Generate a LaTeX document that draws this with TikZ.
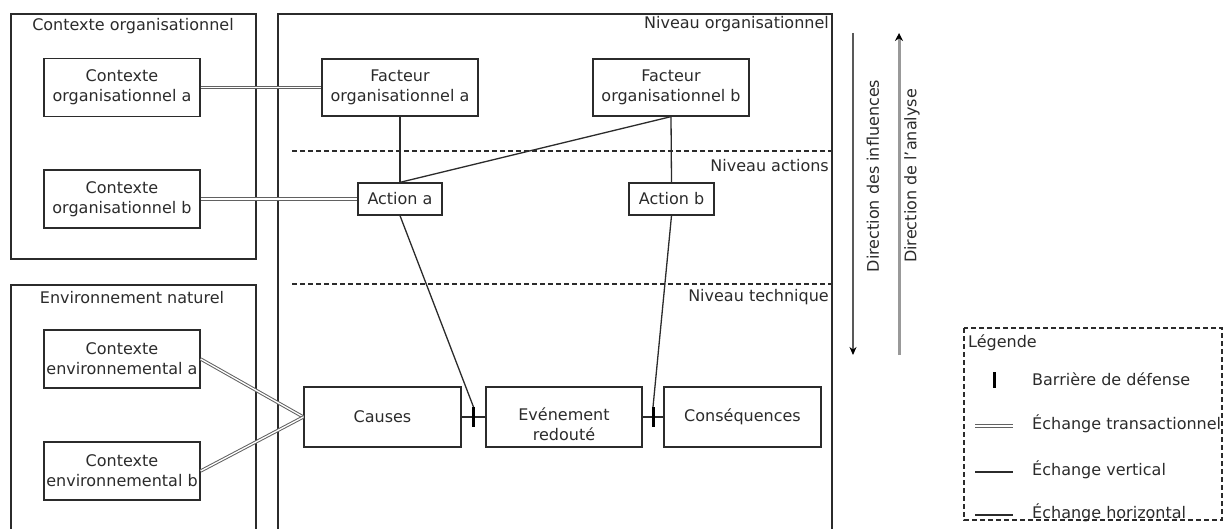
\documentclass[tikz,border=0pt]{standalone}
\usepackage{fontspec}
\setmainfont{DejaVu Sans}
\usetikzlibrary{calc,arrows.meta}
\definecolor{ink}{HTML}{2B2B2B}

\begin{document}
\begin{tikzpicture}[x=1pt,y=-1pt,font=\fontsize{16}{20}\selectfont,
  box/.style={draw=ink,line width=1.3pt,minimum width=156pt,minimum height=58pt,align=center,inner sep=0pt,text=ink},
  frame/.style={draw=ink,line width=1.3pt},
  lvl/.style={draw=ink,line width=1.2pt,dash pattern=on 5pt off 3pt},
  lbl/.style={inner sep=0pt,text=ink},
  dbl/.style={draw=black!62,double=white,double distance=1.3pt,line width=1pt},
  lnk/.style={draw=ink,line width=1.3pt},
  bar/.style={draw=black,line width=3pt}]
\useasboundingbox (0,0) rectangle (1223,529);
\clip (0,0) rectangle (1223,529);

\draw [frame] (11,14) rectangle (256,259);
\draw [frame] (11,285) rectangle (256,560);
\draw [frame] (278,14) rectangle (832,560);
\node [lbl] (torg) at (133,26) {Contexte organisationnel};
\node [lbl] (tenv) at (132,298) {Environnement naturel};
\node [lbl,anchor=east] (nivorg) at (829,24) {Niveau organisationnel};
\node [lbl,anchor=east] (nivact) at (829,166) {Niveau actions};
\node [lbl,anchor=east] (nivtec) at (829,297) {Niveau technique};
\draw [lvl] (292,151) -- (832,151);
\draw [lvl] (292,284) -- (832,284);

\node [box] (ctxa) at (122,87.5) {Contexte\\organisationnel a};
\node [box] (ctxb) at (122,199) {Contexte\\organisationnel b};
\node [box] (enva) at (122,359) {Contexte\\environnemental a};
\node [box] (envb) at (122,471) {Contexte\\environnemental b};
\node [box,minimum height=57pt] (facta) at (400,87.5) {Facteur\\organisationnel a};
\node [box,minimum height=57pt] (factb) at (671,87.5) {Facteur\\organisationnel b};
\node [box,minimum width=84pt,minimum height=32pt] (acta) at (400,199) {Action~a};
\node [box,minimum width=85pt,minimum height=32pt] (actb) at (671.5,199) {Action~b};
\node [box,minimum width=157pt,minimum height=60pt] (causes) at (382.5,417) {Causes};
\node [box,minimum height=60pt] (event) at (564,417) {\raisebox{-9pt}[\height][\depth]{\begin{tabular}{@{}c@{}}Evénement\\redouté\end{tabular}}};
\node [box,minimum width=157pt,minimum height=60pt] (conseq) at (742.5,417) {Conséquences};

\coordinate (b1) at ($(causes.east)!0.5!(event.west)$);
\coordinate (b2) at ($(event.east)!0.5!(conseq.west)$);
\coordinate (b1t) at ($(b1)+(0,-10)$);
\coordinate (b2t) at ($(b2)+(0,-10)$);

\draw [dbl] (ctxa.east) -- (facta.west);
\draw [dbl] (ctxb.east) -- (acta.west);
\draw [dbl] (enva.east) -- (causes.west);
\draw [dbl] (envb.east) -- (causes.west);
\draw [lnk] (facta.south) -- (acta.north);
\draw [lnk] (factb.south) -- (acta.north);
\draw [lnk] (factb.south) -- (actb.north);
\draw [lnk] (causes.east) -- (event.west);
\draw [lnk] (event.east) -- (conseq.west);
\draw [lnk] (acta.south) -- (b1t);
\draw [lnk] (actb.south) -- (b2t);
\draw [bar] (b1t) -- ($(b1)+(0,10)$);
\draw [bar] (b2t) -- ($(b2)+(0,10)$);

\coordinate (inft) at (853,33);
\coordinate (infb) at (853,355);
\coordinate (anat) at (899,33);
\coordinate (anab) at (899,355);
\draw [draw=black!65,line width=1.5pt,-{Stealth[black,length=8pt,width=7pt]}] (inft) -- (infb);
\draw [draw=black!40,line width=3pt,-{Stealth[black,length=8pt,width=8pt]}] (anab) -- (anat);
\node [lbl,rotate=90] (dinf) at (873,176) {Direction des influences};
\node [lbl,rotate=90] (dana) at (912,176) {Direction de l'analyse};

\draw [lvl] (964,328) rectangle (1222,520);
\node [lbl,anchor=west] (leg) at (968,343) {Légende};
\coordinate (lb) at (994,380);
\draw [bar] ($(lb)+(0,-8)$) -- ($(lb)+(0,8)$);
\node [lbl,anchor=west] (lbar) at (1032,379) {Barrière de défense};
\draw [dbl] (975,426) -- (1013,426);
\node [lbl,anchor=west] (ltra) at (1032,424) {Échange transactionnel};
\draw [lnk] (975,472) -- (1013,472);
\node [lbl,anchor=west] (lver) at (1032,470) {Échange vertical};
\draw [lnk] (975,515) -- (1013,515);
\node [lbl,anchor=west] (lhor) at (1032,513) {Échange horizontal};
\end{tikzpicture}
\end{document}
